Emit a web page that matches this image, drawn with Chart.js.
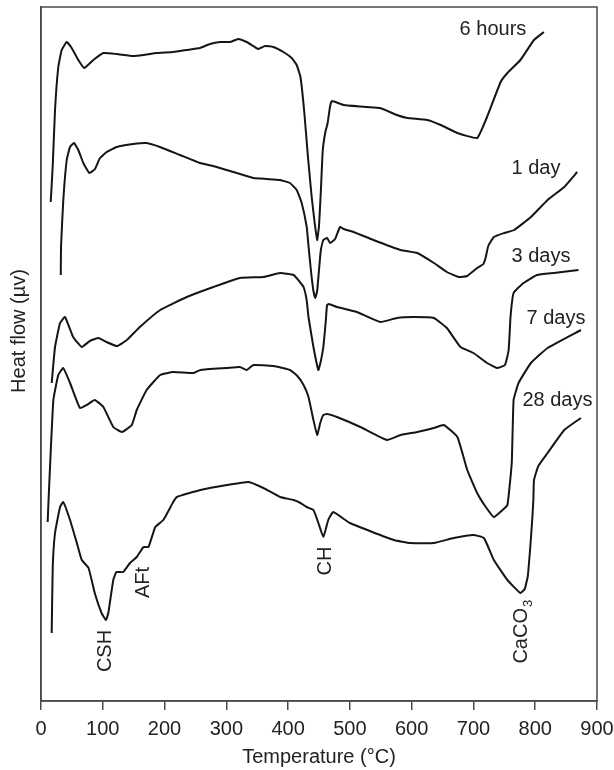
<!DOCTYPE html>
<html>
<head>
<meta charset="utf-8">
<script src="https://cdn.jsdelivr.net/npm/chart.js@4/dist/chart.umd.min.js"></script>
<style>
  html, body { margin: 0; padding: 0; background: #fff; }
  canvas { display: block; }
</style>
</head>
<body>
<canvas id="c" width="614" height="770"></canvas>
<script>
// ---- Data (temperature °C, heat flow in arbitrary units) ----
const t6h = [15.7,18.9,22.7,28,33.5,41.6,49.7,60.4,70.1,84.7,100.9,122.5,149.4,165.6,187.3,214.2,235.8,257.4,273.6,289.7,305.9,319.4,332.9,343.7,351.8,362.6,376.1,392.3,405.8,413.9,420,426,432,438,443,447,450,453,456,460,464,468,471,490,528,549,576,593,625,647,674,706,722,744,755,776,798,814];
const y6h = [499,534,591,634,651,659,653,641,633,641,648,647,645,646,648,649,651,653,657,659,659,662,659,655,652,655,654,649,643,636,624,590,545,505,478,461,475,510,550,568,578,595,600,596,594,593,586,583,581,576,568,563,584,619,628,641,661,669];

const t1d = [32,32.4,36.1,41.6,46.9,53.4,60.4,68.5,78.2,87.4,95.5,106.3,122.5,149.4,171,192.6,225,257.4,284.4,311.3,343.7,365.3,386.9,403,413.9,422,430.1,433,437,441,444,447,450,453,457,463,468,476,484,490,506,538,582,609,636,657,676,690,706,716,720,724,733,750,766,793,820,847,868];
const y1d = [426,454,501,541,554,558,551,538,528,532,543,549,554,557,558,554,546,538,534,529,523,522,521,518,511,498,474,455,430,410,403,410,431,451,461,463,458,462,474,472,469,461,451,448,438,429,424,425,433,437,444,455,464,468,471,484,501,514,529];

const t3d = [17.3,22.7,30.8,38.9,52,66,79,93,106,123,139,160,193,236,279,322,360,387,409,419,425,430,433,441,449,453,457,461,463,466,479,511,549,576,603,636,657,679,700,722,738,751,757,760,765,781,803,830,870];
const y3d = [318,354,378,384,364,354,360,363,359,355,361,374,391,404,414,423,424,428,426,419,414,401,384,354,331,340,354,380,396,397,394,389,379,383,384,383,373,354,348,338,333,336,351,384,408,418,426,428,431];

const t7d = [10.8,12.5,14.6,20,28,36,47,63,74,87,101,117,131,147,155,171,193,214,247,258,301,322,333,344,376,403,415,425,433,441,447,452,457,463,479,517,560,582,609,636,652,674,690,706,720,733,747,755,762,765,773,793,820,874];
const y7d = [179,205,234,301,326,333,318,293,296,301,294,274,269,276,291,311,326,329,328,331,333,334,331,336,335,331,325,316,304,281,266,278,286,287,284,274,261,266,269,273,276,264,231,208,194,184,191,196,238,301,318,338,353,371];

const t28d = [17.3,19,22.7,30.8,36,47,58,66,77,87,98,105,109,117,122,133,144,155,166,174,185,198,214,220,258,301,336,360,387,409,420,430,441,449,457,465,473,500,571,598,636,668,700,717,733,755,776,783,788,792,795,797,798,805,820,847,874];
const y28d = [68,134,168,194,199,181,158,141,133,108,88,81,88,121,129,129,138,144,154,154,174,181,199,204,211,216,219,213,204,201,198,194,191,178,164,181,189,178,161,158,158,163,166,163,141,121,108,112,125,154,180,201,221,235,248,271,283];

const seriesNames = ['6 hours','1 day','3 days','7 days','28 days'];
const seriesT = [t6h, t1d, t3d, t7d, t28d];
const seriesY = [y6h, y1d, y3d, y7d, y28d];

// label anchors in data coordinates (temperature, heat-flow units)
const labelText = ['6 hours','1 day','3 days','7 days','28 days'];
const labelT = [731.6, 801.2, 809.3, 833.6, 836];
const labelY = [671.5, 533, 444.3, 383, 301];

// vertical peak annotations
const peakText = ['CSH','AFt','CH','CaCO'];
const peakSub  = ['','','','3'];
const peakT = [103.6, 165.6, 459.7, 778];
const peakY = [50, 118.5, 140, 69.3];

const xTicksMin = 0, xTicksMax = 900, xTickStep = 100;
const yMin = 0, yMax = 694;

const FONT = "'Liberation Sans', Arial, Helvetica, sans-serif";
const TEXT = '#222';

const annotations = {
  id: 'annotations',
  afterDatasetsDraw(chart) {
    const {ctx, chartArea, scales: {x, y}} = chart;
    ctx.save();
    // frame
    ctx.strokeStyle = '#4a4a4a';
    ctx.lineWidth = 1.5;
    ctx.strokeRect(chartArea.left, chartArea.top, chartArea.right - chartArea.left, chartArea.bottom - chartArea.top);

    ctx.fillStyle = TEXT;
    ctx.font = '20px ' + FONT;
    ctx.textAlign = 'center';
    ctx.textBaseline = 'middle';
    for (let i = 0; i < labelText.length; i++) {
      ctx.fillText(labelText[i], x.getPixelForValue(labelT[i]), y.getPixelForValue(labelY[i]));
    }
    // rotated peak labels
    for (let i = 0; i < peakText.length; i++) {
      const px = x.getPixelForValue(peakT[i]);
      const py = y.getPixelForValue(peakY[i]);
      ctx.save();
      ctx.translate(px, py);
      ctx.rotate(-Math.PI / 2);
      ctx.font = '20px ' + FONT;
      const w1 = ctx.measureText(peakText[i]).width;
      ctx.font = '13px ' + FONT;
      const w2 = peakSub[i] ? ctx.measureText(peakSub[i]).width + 1 : 0;
      const start = -(w1 + w2) / 2;
      ctx.textAlign = 'left';
      ctx.textBaseline = 'middle';
      ctx.font = '20px ' + FONT;
      ctx.fillText(peakText[i], start, 0);
      if (peakSub[i]) {
        ctx.font = '13px ' + FONT;
        ctx.fillText(peakSub[i], start + w1 + 1, 7);
      }
      ctx.restore();
    }
    // y-axis title
    ctx.save();
    ctx.translate(19, 331);
    ctx.rotate(-Math.PI / 2);
    ctx.font = '20px ' + FONT;
    ctx.textAlign = 'center';
    ctx.textBaseline = 'middle';
    ctx.fillText('Heat flow (\u00b5v)', 0, 0);
    ctx.restore();
    ctx.restore();
  }
};

new Chart(document.getElementById('c'), {
  type: 'scatter',
  data: {
    datasets: seriesNames.map((name, k) => ({
      label: name,
      data: seriesT[k].map((t, i) => ({x: t, y: seriesY[k][i]})),
      showLine: true,
      borderColor: '#151515',
      backgroundColor: '#151515',
      borderWidth: 2,
      pointRadius: 0,
      tension: 0.12,
      fill: false
    }))
  },
  options: {
    responsive: false,
    animation: false,
    layout: { padding: { top: 7, right: 0, left: 0, bottom: 0 } },
    plugins: { legend: { display: false }, tooltip: { enabled: false } },
    scales: {
      x: {
        type: 'linear',
        min: xTicksMin, max: xTicksMax,
        ticks: { stepSize: xTickStep, color: TEXT, padding: 7, maxRotation: 0, font: { family: FONT, size: 20 } },
        grid: { drawOnChartArea: false, drawTicks: true, tickLength: 9, color: '#4a4a4a', lineWidth: 1.5 },
        border: { display: true, color: '#4a4a4a', width: 1.5 },
        title: { display: true, text: 'Temperature (\u00b0C)', color: TEXT, padding: { top: 0, bottom: 1 }, font: { family: FONT, size: 20 } },
        afterFit: s => { s.height = 69; s.paddingRight = 17; s.paddingLeft = 0; }
      },
      y: {
        type: 'linear',
        min: yMin, max: yMax,
        ticks: { display: false },
        grid: { display: false, drawTicks: false },
        border: { display: true, color: '#4a4a4a', width: 1.5 },
        afterFit: s => { s.width = 41; }
      }
    }
  },
  plugins: [annotations]
});
</script>
</body>
</html>
